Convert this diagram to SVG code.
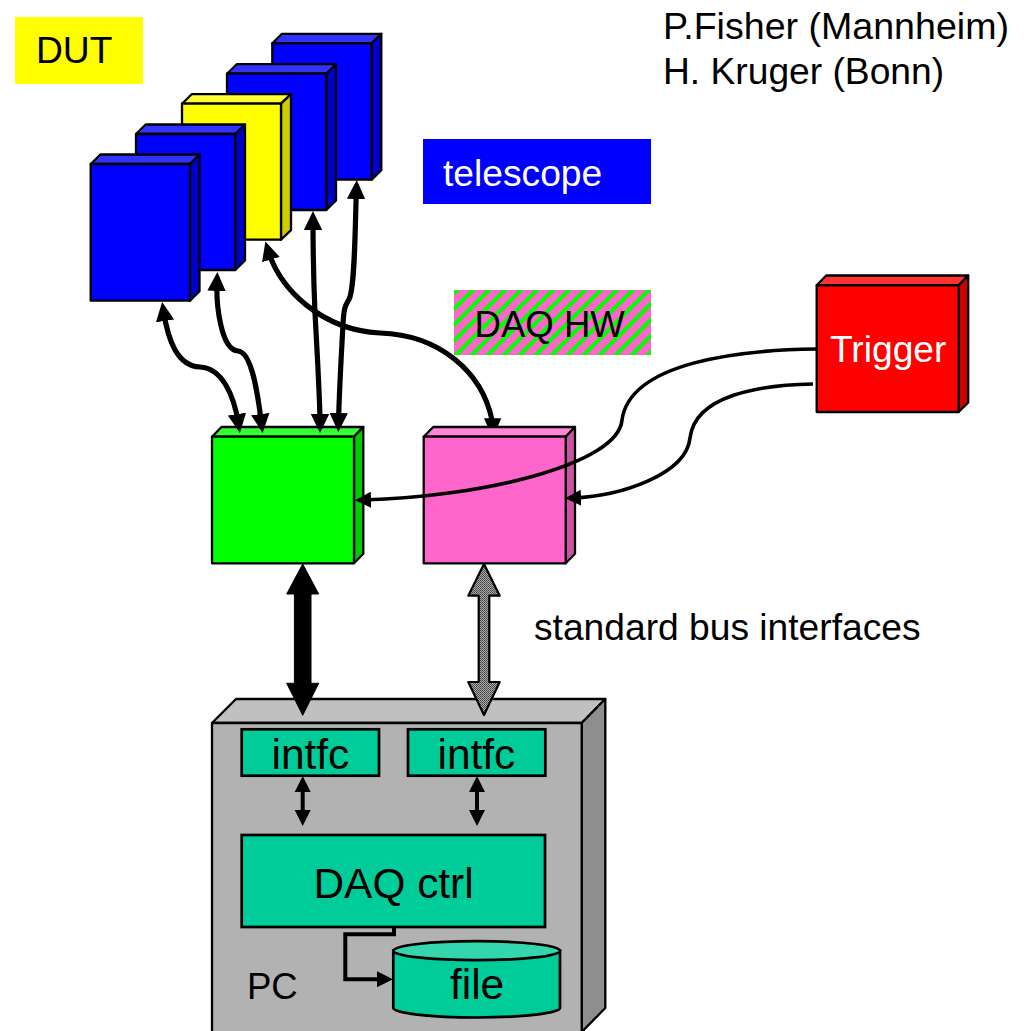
<svg xmlns="http://www.w3.org/2000/svg" width="1025" height="1031" viewBox="0 0 1025 1031">
<style>
text{font-family:"Liberation Sans",Arial,sans-serif;font-size:37.2px;fill:#000}
.big{font-size:42.4px}
.w{fill:#fff}
.e{stroke:#000;stroke-width:2.3;stroke-linejoin:round}
.blue .f{fill:#00f}.blue .t{fill:#33f}.blue .s{fill:#00c}
.yellow .f{fill:#ff0}.yellow .t{fill:#ff3}.yellow .s{fill:#cc0}
.c{fill:none;stroke:#000;stroke-width:5.2;marker-start:url(#h);marker-end:url(#h)}
.n{fill:none;stroke:#000;stroke-width:3.6}
.m{fill:none;stroke:#000;stroke-width:4}
.teal{fill:#0c9;stroke:#000;stroke-width:2.7}
</style>
<defs>
<marker id="h" markerUnits="userSpaceOnUse" markerWidth="22" markerHeight="22" refX="10" refY="10" orient="auto-start-reverse"><path d="M0 0.8L19 10L0 19.2Z"/></marker>
<marker id="t" markerUnits="userSpaceOnUse" markerWidth="18" markerHeight="18" refX="8" refY="8.5" orient="auto-start-reverse"><path d="M0 0.5L16 8.5L0 16.5Z"/></marker>
<pattern id="stripe" patternUnits="userSpaceOnUse" width="11.3" height="11.3" patternTransform="translate(454 290) rotate(45)"><rect width="11.3" height="11.3" fill="#f6c"/><rect width="4.2" height="11.3" fill="#0f0"/></pattern>
<pattern id="dither" patternUnits="userSpaceOnUse" width="2" height="2"><rect width="2" height="2" fill="#aaa"/><rect width="1" height="1" fill="#444"/><rect x="1" y="1" width="1" height="1" fill="#555"/></pattern>
</defs>

<g id="legend-dut"><rect x="15" y="17" width="128" height="67" fill="#ff0"/><text x="36" y="63">DUT</text></g>
<g id="authors"><text x="663" y="39" style="font-size:37.6px">P.Fisher (Mannheim)</text><text x="663" y="83.5">H. Kruger (Bonn)</text></g>
<g id="legend-telescope"><rect x="423" y="139" width="228" height="65" fill="#00f"/><text x="443" y="186" class="w">telescope</text></g>
<g id="legend-daq"><rect x="454" y="290" width="197" height="65" fill="url(#stripe)"/><text x="474.5" y="337" style="font-size:36.6px">DAQ HW</text></g>
<g id="label-bus"><text x="534" y="640">standard bus interfaces</text></g>

<g id="plane-5" class="blue e"><path class="t" d="M272.3 43.3L282 33.8H381.3L371.7 43.3Z"/><path class="s" d="M371.7 43.3L381.3 33.8V170.2L371.7 179.7Z"/><rect class="f" x="272.3" y="43.3" width="99.4" height="136.4"/></g>
<g id="plane-4" class="blue e"><path class="t" d="M227 73.7L236.7 64.2H336L326.3 73.7Z"/><path class="s" d="M326.3 73.7L336 64.2V200.5L326.3 210Z"/><rect class="f" x="227" y="73.7" width="99.3" height="136.3"/></g>
<g id="plane-dut" class="yellow e"><path class="t" d="M182 103.7L191.7 94.2H291L281 103.7Z"/><path class="s" d="M281 103.7L291 94.2V230.2L281 239.7Z"/><rect class="f" x="182" y="103.7" width="99" height="136"/></g>
<g id="plane-2" class="blue e"><path class="t" d="M136 134L145.7 124.5H245L235.3 134Z"/><path class="s" d="M235.3 134L245 124.5V260.5L235.3 270Z"/><rect class="f" x="136" y="134" width="99.3" height="136"/></g>
<g id="plane-1" class="blue e"><path class="t" d="M90.7 164L100.4 154.5H199.5L190 164Z"/><path class="s" d="M190 164L199.5 154.5V291.2L190 300.7Z"/><rect class="f" x="90.7" y="164" width="99.3" height="136.7"/></g>

<g id="green-box" class="e"><path fill="#3f3" d="M212 436.7L221.5 427H363.3L354 436.7Z"/><path fill="#0c0" d="M354 436.7L363.3 427V553.8L354 563.3Z"/><rect fill="#0f0" x="212" y="436.7" width="142" height="126.6"/></g>
<g id="pink-box" class="e"><path fill="#ff85d6" d="M423.7 436.7L433.2 427H575L565.7 436.7Z"/><path fill="#cc52a3" d="M565.7 436.7L575 427V553.8L565.7 563.3Z"/><rect fill="#f6c" x="423.7" y="436.7" width="142" height="126.6"/></g>
<g id="trigger" class="e"><path fill="#f33" d="M816.7 285.3L826.2 275.5H968.2L958.7 285.3Z"/><path fill="#c00" d="M958.7 285.3L968.2 275.5V402.5L958.7 412Z"/><rect fill="#f00" x="816.7" y="285.3" width="142" height="126.7"/><text x="830" y="362" class="w" stroke="none">Trigger</text></g>

<g id="pc" class="e"><path fill="#c0c0c0" d="M212 723L236 699H605.3L581.7 723Z"/><path fill="#8e8e8e" d="M581.7 723L605.3 699V1008L581.7 1032Z"/><rect fill="#b2b2b2" x="212" y="723" width="369.7" height="310"/><text x="247" y="998.5" stroke="none" style="font-size:36.5px">PC</text></g>
<g id="intfc-1"><rect class="teal" x="241.7" y="729.3" width="137.3" height="46.4"/><text class="big" x="271.5" y="769">intfc</text></g>
<g id="intfc-2"><rect class="teal" x="408" y="729.3" width="137.3" height="46.4"/><text class="big" x="437.5" y="769">intfc</text></g>
<g id="daq-ctrl"><rect class="teal" x="241.7" y="835" width="303.3" height="92"/><text class="big" x="313.5" y="898">DAQ ctrl</text></g>
<g id="file"><path class="teal" d="M393.3 950.7V1008C393.3 1013 430 1017.5 476.7 1017.5S560 1013 560 1008V950.7Z"/><ellipse cx="476.7" cy="950.7" rx="83.3" ry="9.5" fill="#33d6ad" stroke="#000" stroke-width="2.7"/><text class="big" x="450" y="999">file</text></g>

<g id="connectors">
<path class="c" d="M163.5 311C168 340 177 366 200 367C222 368 234 395 238.5 424"/>
<path class="c" d="M217 281C216 305 221 350 238 351C252 352 258 395 261.5 424"/>
<path class="c" d="M313 220C313 255 314 290 315 313C317 350 320 400 320 424"/>
<path class="c" d="M356.4 189C355 230 355 280 350 297C347 305 344 302 343 325C341 360 339 400 338.5 423"/>
<path class="c" style="marker-end:none" d="M268 250C280 290 322 330 380 333C440 335 482 372 492 420"/>
<path d="M484 418.3L501.3 418.3L497.7 426.7H487.7Z"/>
<path class="n" style="marker-end:url(#t)" d="M816 349C740 350 630 362 622 420C618 465 480 497 363 500"/>
<path class="n" style="marker-end:url(#t)" d="M813 384C760 385 695 395 690 438C686 475 620 496 573 498"/>
<path d="M302.7 564L318.7 594H311V683.3H318.7L302.7 715.3L286.7 683.3H294.4V594H286.7Z" stroke="#000" stroke-width="1"/>
<path d="M484 564L499.7 595.7H489.3V682H499.7L484 715L468.3 682H478.7V595.7H468.3Z" fill="url(#dither)" stroke="#000" stroke-width="2.2" stroke-linejoin="round"/>
<path class="m" style="marker-start:url(#t);marker-end:url(#t)" d="M302.7 784V818"/>
<path class="m" style="marker-start:url(#t);marker-end:url(#t)" d="M477 784V818"/>
<path class="m" style="marker-end:url(#t)" d="M394 927V934.3H345.3V979.3H385"/>
</g>
</svg>
